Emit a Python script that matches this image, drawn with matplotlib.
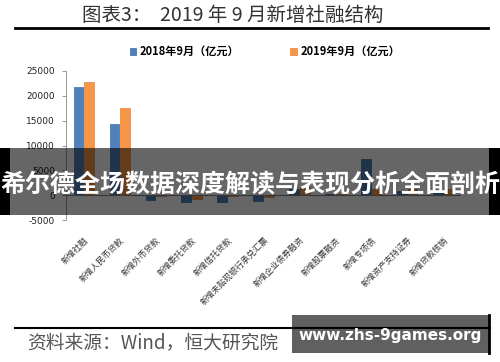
import matplotlib
matplotlib.use('Agg')
import matplotlib.pyplot as plt
import numpy as np
from matplotlib.patches import Rectangle

plt.rcParams['font.family'] = ['Noto Sans CJK SC', 'DejaVu Sans']

categories = ['新增社融', '新增人民币贷款', '新增外币贷款', '新增委托贷款',
              '新增信托贷款', '新增未贴现银行承兑汇票', '新增企业债券融资',
              '新增股票融资', '新增专项债', '新增资产支持证券', '新增贷款核销']
sep_2018 = [21700, 14300, -1000, -1400, -1300, -1200, 1200, 240, 7350, 900, 1000]
sep_2019 = [22700, 17600, -200, -800, -200, -300, 1700, 200, 1300, 1200, 1300]
series_names = ['2018年9月（亿元）', '2019年9月（亿元）']
y_ticks = [-5000, 0, 5000, 10000, 15000, 20000, 25000]

BLUE = '#4f81bd'
ORANGE = '#f79646'


def main():
    fig = plt.figure(figsize=(5.0, 3.62), dpi=100)
    ax = fig.add_axes([0.132, 0.392, 0.79, 0.412])

    x = np.arange(len(categories))
    w = 0.27
    ax.bar(x - w / 2 - 0.015, sep_2018, w, color=BLUE, edgecolor='#3a6aa5',
           linewidth=0.5, label=series_names[0])
    ax.bar(x + w / 2 + 0.015, sep_2019, w, color=ORANGE, edgecolor='#e6823a',
           linewidth=0.5, label=series_names[1])

    ax.set_xlim(-0.5, len(categories) - 0.5)
    ax.set_ylim(-5000, 25000)
    ax.set_yticks(y_ticks)
    ax.set_yticklabels([str(v) for v in y_ticks], fontsize=6.5,
                       family='Liberation Sans Narrow', color='#222222')
    ax.axhline(0, color='#888888', linewidth=0.8)

    ax.set_xticks(x)
    ax.set_xticklabels(categories, rotation=45, ha='right',
                       rotation_mode='anchor', fontsize=6, color='#333333')
    ax.tick_params(axis='x', length=0, pad=11)
    ax.tick_params(axis='y', length=3, width=0.6, color='#888888', pad=5)
    for side in ['top', 'right', 'bottom']:
        ax.spines[side].set_visible(False)
    ax.spines['left'].set_color('#888888')
    ax.spines['left'].set_linewidth(0.6)

    fig.legend(loc='center', bbox_to_anchor=(0.53, 0.857), ncol=2,
               frameon=False, handlelength=0.6, handleheight=0.6,
               columnspacing=4.6, handletextpad=0.3,
               prop={'weight': 'bold', 'size': 8})

    # title and rules
    fig.text(0.465, 0.958, '图表3：  2019 年 9 月新增社融结构', ha='center',
             va='center', fontsize=14, color='#333333')
    fig.add_artist(plt.Line2D([0.03, 0.976], [0.922, 0.922], color='black',
                              linewidth=2))
    fig.add_artist(plt.Line2D([0.03, 0.98], [0.094, 0.094], color='black',
                              linewidth=1.5))
    fig.text(0.055, 0.052, '资料来源：Wind，恒大研究院', ha='left', va='center',
             fontsize=13.5, style='italic', color='#555555')

    # the watermark banner across the middle
    fig.add_artist(Rectangle((0.02, 0.406), 0.958, 0.185,
                             transform=fig.transFigure, color='black',
                             alpha=0.6, linewidth=0))
    fig.add_artist(Rectangle((0, 0.406), 0.02, 0.185,
                             transform=fig.transFigure, color='black',
                             linewidth=0))
    fig.add_artist(Rectangle((0.978, 0.406), 0.022, 0.185,
                             transform=fig.transFigure, color='black',
                             linewidth=0))
    fig.text(0.5, 0.487, '希尔德全场数据深度解读与表现分析全面剖析',
             ha='center', va='center', fontsize=18, fontweight='bold',
             color='white')

    # the site box at the bottom right
    fig.add_artist(Rectangle((0.584, 0.025), 0.396, 0.105,
                             transform=fig.transFigure, color='#606060',
                             linewidth=0))
    fig.add_artist(plt.Line2D([0.978, 0.978], [0.025, 0.13], color='black',
                              linewidth=2))
    fig.text(0.78, 0.072, 'www.zhs-9games.org', ha='center', va='center',
             fontsize=11, fontweight='bold', color='white',
             family='DejaVu Sans')

    fig.savefig('out.png', dpi=100)


if __name__ == '__main__':
    main()
